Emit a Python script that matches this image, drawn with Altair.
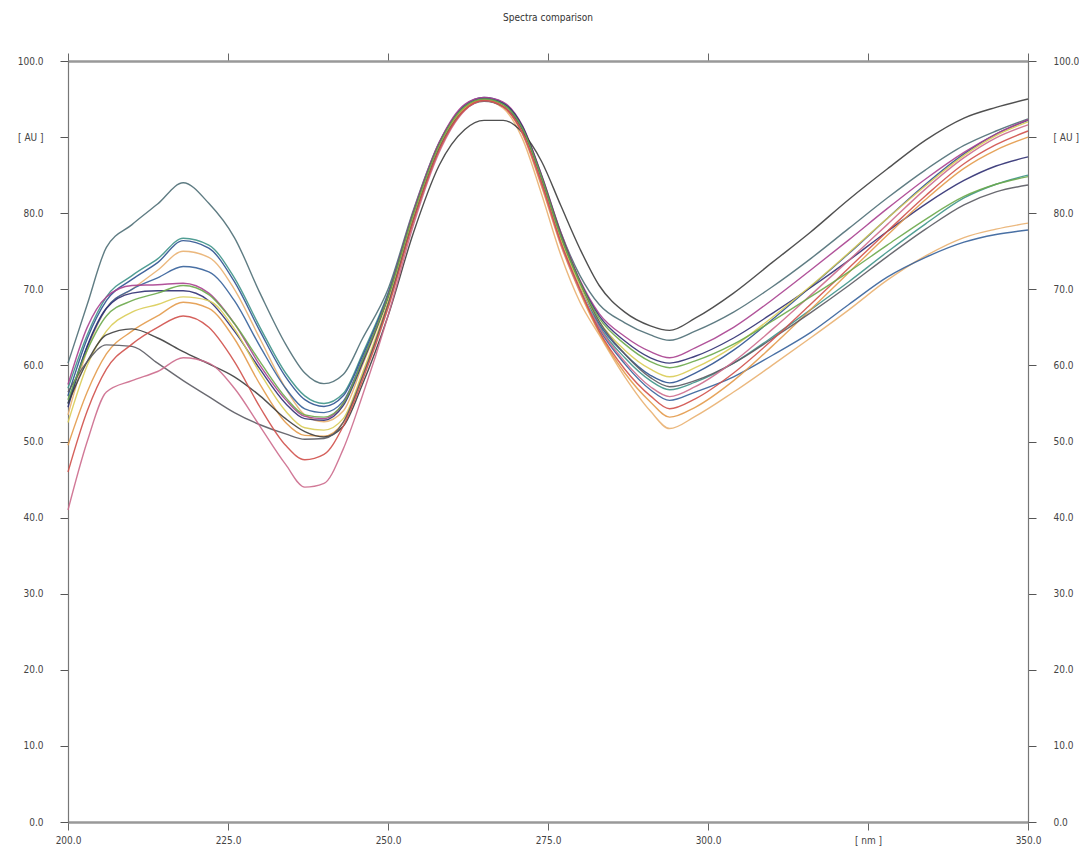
import altair as alt
import pandas as pd

W = [200, 203, 206, 210, 214, 218, 222, 226, 230, 234,
     237, 240, 243, 246, 250, 254, 258, 262, 265, 268,
     271, 274, 277, 280, 283, 287, 291, 294, 298, 304,
     310, 316, 322, 328, 334, 340, 345, 350]

s_A = [60.3, 68.0, 75.5, 78.5, 81.2, 84.0, 81.3, 76.8, 69.5, 62.8,
       59.0, 57.6, 58.8, 63.5, 70.0, 80.5, 89.3, 94.0, 95.0, 94.3,
       91.3, 85.0, 77.5, 71.8, 68.0, 65.6, 64.0, 63.3, 64.5, 67.0,
       70.3, 74.0, 78.0, 82.0, 85.7, 88.9, 90.8, 92.4]
s_B1 = [57.0, 64.0, 69.0, 71.8, 74.0, 76.7, 75.8, 71.5, 65.0, 59.0,
        56.0, 55.0, 56.3, 61.5, 69.5, 80.2, 89.2, 94.1, 95.1, 94.4,
        91.2, 84.5, 76.8, 70.6, 65.2, 61.0, 58.0, 56.8, 57.8, 60.3,
        63.7, 67.3, 71.0, 74.9, 78.6, 82.0, 83.8, 85.0]
s_B2 = [56.0, 63.5, 68.5, 71.3, 73.5, 76.4, 75.4, 71.0, 64.5, 58.5,
        55.5, 54.6, 56.0, 61.2, 69.3, 80.1, 89.1, 94.2, 95.2, 94.5,
        91.3, 84.6, 76.9, 70.8, 65.5, 61.5, 58.7, 57.7, 59.0, 62.0,
        66.0, 70.3, 74.7, 79.3, 83.8, 87.8, 90.4, 92.2]
s_C = [53.5, 62.0, 67.5, 70.0, 72.5, 75.0, 74.2, 70.0, 63.5, 57.0,
       53.5, 52.6, 54.0, 60.0, 68.8, 79.8, 88.8, 93.8, 94.8, 93.8,
       89.8, 82.5, 74.5, 68.3, 64.0, 58.5, 54.0, 51.7, 53.3, 56.5,
       60.0, 63.6, 67.3, 71.2, 74.4, 76.8, 77.9, 78.7]
s_D = [55.0, 62.5, 67.5, 70.0, 71.5, 73.0, 72.3, 68.5, 62.5, 57.0,
       54.3, 53.8, 55.3, 60.8, 69.0, 80.0, 89.0, 94.0, 95.0, 94.3,
       91.0, 84.2, 76.2, 70.0, 64.8, 60.2, 56.8, 55.4, 56.5, 58.5,
       61.3, 64.3, 68.0, 71.6, 74.2, 76.2, 77.2, 77.8]
s_E = [57.5, 65.0, 69.0, 70.5, 70.6, 70.8, 69.5, 65.5, 60.0, 55.5,
       53.3, 53.0, 55.0, 60.5, 69.2, 80.3, 89.3, 94.3, 95.2, 94.6,
       91.5, 85.0, 77.5, 71.2, 66.8, 63.8, 61.8, 61.0, 62.3, 65.0,
       68.6, 72.5, 76.5, 80.6, 84.5, 88.0, 90.4, 92.3]
s_F = [54.5, 62.5, 67.5, 69.5, 69.8, 69.8, 68.5, 64.5, 59.5, 55.0,
       53.0, 52.8, 54.7, 60.3, 69.0, 80.0, 89.0, 94.0, 95.0, 94.4,
       91.4, 84.8, 77.2, 71.0, 66.5, 63.2, 61.0, 60.3, 61.2, 63.6,
       66.8, 70.2, 73.8, 77.6, 81.2, 84.3, 86.2, 87.4]
s_G = [52.5, 60.0, 64.5, 67.0, 68.0, 69.0, 68.5, 64.8, 59.0, 54.0,
       51.8, 51.5, 53.0, 59.0, 68.3, 79.6, 88.8, 93.9, 94.9, 94.1,
       90.7, 84.0, 76.5, 70.5, 65.8, 62.0, 59.5, 58.5, 59.7, 62.5,
       66.3, 70.4, 74.8, 79.3, 83.6, 87.6, 90.2, 92.0]
s_H = [49.5, 56.5, 61.5, 64.5, 66.5, 68.3, 67.5, 63.5, 57.5, 52.5,
       50.8, 50.7, 52.5, 58.5, 68.0, 79.4, 88.6, 93.8, 94.9, 94.0,
       90.4, 83.5, 75.8, 69.6, 64.3, 59.0, 55.2, 53.2, 54.5, 58.0,
       62.5, 67.3, 72.2, 77.1, 81.8, 85.9, 88.3, 90.0]
s_I = [55.0, 60.5, 64.0, 64.8, 63.6, 61.8, 60.2, 58.5, 56.0, 53.0,
       51.3, 50.6, 52.0, 57.5, 66.5, 77.5, 86.3, 91.0, 92.2, 92.2,
       90.6, 86.8, 81.0, 75.3, 70.5, 67.0, 65.2, 64.6, 66.2, 69.5,
       73.5, 77.5, 81.8, 85.8, 89.6, 92.5, 93.9, 95.0]
s_J = [56.5, 60.5, 62.7, 62.5, 60.3, 58.0, 55.9, 53.8, 52.2, 51.0,
       50.3, 50.4, 52.5, 58.5, 68.0, 79.2, 88.5, 93.6, 94.7, 94.0,
       91.0, 84.8, 77.3, 71.0, 65.8, 61.5, 58.4, 57.2, 58.0, 60.3,
       63.5, 66.9, 70.5, 74.3, 77.9, 81.1, 82.8, 83.7]
s_K = [41.0, 50.0, 56.5, 58.0, 59.2, 61.0, 60.3, 57.0, 52.0, 47.0,
       44.0, 44.5, 49.0, 56.0, 66.5, 78.5, 88.0, 93.5, 94.8, 94.0,
       90.5, 83.8, 76.0, 69.8, 65.0, 60.5, 57.2, 55.9, 57.2, 60.5,
       64.7, 69.2, 73.8, 78.5, 83.2, 87.3, 89.9, 91.6]
s_L = [46.0, 54.0, 59.5, 62.8, 65.0, 66.5, 65.0, 60.5, 54.5, 49.5,
       47.6, 48.3, 52.0, 58.0, 67.5, 79.0, 88.3, 93.6, 94.8, 94.0,
       90.6, 84.0, 76.2, 70.0, 64.5, 59.5, 56.0, 54.3, 55.6, 59.0,
       63.3, 68.0, 72.8, 77.6, 82.3, 86.5, 89.0, 90.8]
s_M = [55.5, 62.0, 66.5, 68.5, 69.5, 70.5, 69.3, 65.5, 60.5, 55.8,
       53.5, 53.2, 55.0, 60.6, 69.0, 80.0, 89.0, 94.0, 95.0, 94.3,
       91.2, 84.7, 77.0, 70.9, 66.2, 62.8, 60.5, 59.7, 60.6, 62.8,
       65.8, 69.0, 72.3, 75.8, 79.2, 82.2, 83.8, 84.8]

names = ["A", "B1", "B2", "C", "D", "E", "F", "G", "H", "I", "J", "K", "L", "M"]
series = [s_A, s_B1, s_B2, s_C, s_D, s_E, s_F, s_G, s_H, s_I, s_J, s_K, s_L, s_M]
colors = ["#4e6e76", "#3e9488", "#2c5290", "#e9b070", "#35609a", "#a8408f",
          "#2f2f72", "#d9cc55", "#e39a4a", "#3d3d3d", "#5a5a62", "#cc6a8c",
          "#d0504a", "#6aa84a"]

x_ticks = [200, 225, 250, 275, 300, 325, 350]
y_ticks = [0, 10, 20, 30, 40, 50, 60, 70, 80, 90, 100]

rows = []
for n, vals in zip(names, series):
    for w, v in zip(W, vals):
        rows.append({"series": n, "nm": w, "au": v})
df = pd.DataFrame(rows)

FONT = "Liberation Sans Narrow, DejaVu Sans Condensed, Liberation Sans, sans-serif"
xs = alt.Scale(domain=[200, 350], nice=False, zero=False)
ys = alt.Scale(domain=[0, 100], nice=False, zero=False)

common_h = dict(grid=False, title=None, tickSize=8, tickColor="#666666",
                domainColor="#999999", domainWidth=2.5, labelFont=FONT,
                labelFontSize=10, labelColor="#444444", labelFlush=False)
common_v = dict(grid=False, title=None, tickSize=8, tickColor="#555555",
                domainColor="#777777", domainWidth=1.2, labelFont=FONT,
                labelFontSize=10, labelColor="#444444", labelPadding=17,
                labelFlush=False)

y_expr = "datum.value == 90 ? '[ AU ]' : format(datum.value, '.1f')"
x_expr = "datum.value == 325 ? '[ nm ]' : format(datum.value, '.1f')"

lines = alt.Chart(df).mark_line(strokeWidth=1.4, interpolate="monotone", opacity=0.9).encode(
    x=alt.X("nm:Q", scale=xs, axis=alt.Axis(orient="bottom", values=x_ticks,
                                             labelExpr=x_expr, labelPadding=5, **common_h)),
    y=alt.Y("au:Q", scale=ys, axis=alt.Axis(orient="left", values=y_ticks,
                                             labelExpr=y_expr, **common_v)),
    color=alt.Color("series:N", scale=alt.Scale(domain=names, range=colors), legend=None),
    detail="series:N",
)

ghost = alt.Chart(df).mark_point(opacity=0).encode(
    x=alt.X("nm:Q", scale=xs, axis=alt.Axis(orient="top", values=x_ticks, labels=False, **common_h)),
    y=alt.Y("au:Q", scale=ys, axis=alt.Axis(orient="right", values=y_ticks,
                                             labelExpr=y_expr, **common_v)),
)

chart = alt.layer(lines, ghost).resolve_axis(x="independent", y="independent").properties(
    width=960, height=761,
    padding={"left": 60, "top": 53, "right": 51, "bottom": 34},
    autosize=alt.AutoSizeParams(type="none"),
    title=alt.TitleParams("Spectra comparison", font=FONT, fontSize=10, fontWeight="normal",
                          color="#333333", anchor="middle", offset=30),
).configure_view(stroke=None).configure(background="white")

chart.save("out.html", embed_options={"renderer": "svg", "actions": False})
